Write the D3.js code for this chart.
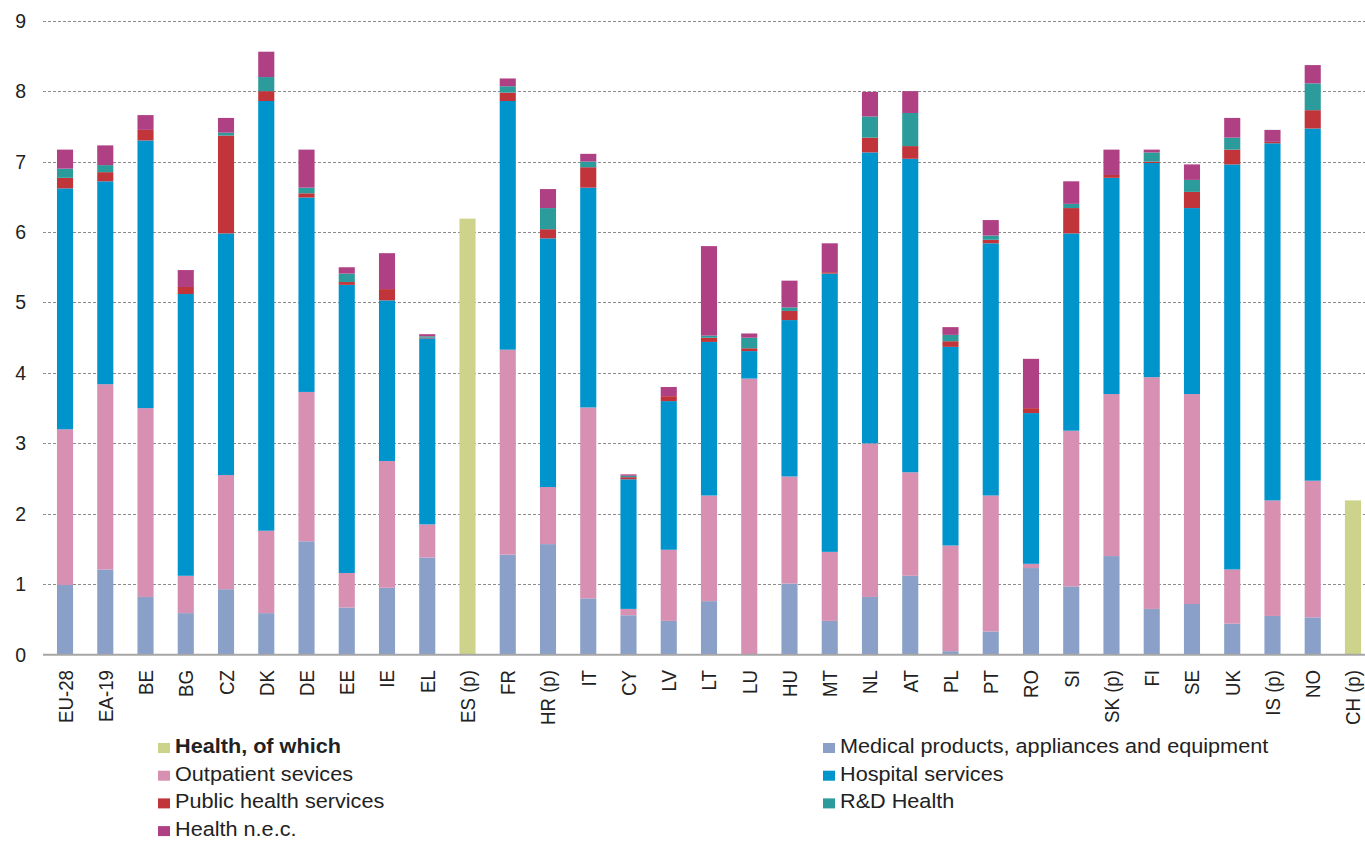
<!DOCTYPE html>
<html>
<head>
<meta charset="utf-8">
<script src="https://cdn.jsdelivr.net/npm/d3@7"></script>
<style>
  html, body { margin: 0; padding: 0; background: #fff; }
  svg { display: block; font-family: "Liberation Sans", Arial, sans-serif; }
</style>
</head>
<body>
<svg id="chart" width="1365" height="841"></svg>
<script>
const categories = ["EU-28","EA-19","BE","BG","CZ","DK","DE","EE","IE","EL","ES (p)","FR","HR (p)","IT","CY","LV","LT","LU","HU","MT","NL","AT","PL","PT","RO","SI","SK (p)","FI","SE","UK","IS (p)","NO","CH (p)"];

const healthTotal = [null,null,null,null,null,null,null,null,null,null,6.19,null,null,null,null,null,null,null,null,null,null,null,null,null,null,null,null,null,null,null,null,null,2.19];
const medical    = [0.99,1.21,0.82,0.59,0.93,0.59,1.61,0.67,0.95,1.38,0,1.42,1.57,0.80,0.56,0.48,0.76,0,1.01,0.48,0.82,1.12,0.05,0.33,1.23,0.97,1.40,0.65,0.72,0.44,0.55,0.53,0];
const outpatient = [2.21,2.63,2.68,0.53,1.62,1.17,2.12,0.49,1.80,0.47,0,2.91,0.81,2.71,0.09,1.01,1.50,3.92,1.52,0.98,2.18,1.47,1.50,1.93,0.06,2.21,2.30,3.29,2.98,0.77,1.64,1.94,0];
const hospital   = [3.42,2.88,3.80,4.00,3.43,6.10,2.76,4.09,2.28,2.64,0,3.53,3.53,3.12,1.84,2.11,2.18,0.39,2.22,3.95,4.13,4.45,2.82,3.58,2.14,2.80,3.07,3.04,2.64,5.75,5.07,5.00,0];
const publicHealth = [0.15,0.13,0.15,0.10,1.39,0.14,0.06,0.04,0.16,0.01,0,0.12,0.13,0.29,0.03,0.07,0.06,0.04,0.13,0.02,0.21,0.18,0.08,0.05,0.07,0.36,0.04,0.02,0.23,0.21,0.02,0.26,0];
const rdHealth   = [0.13,0.10,0,0,0.04,0.20,0.08,0.12,0,0.02,0,0.09,0.30,0.08,0.02,0,0.03,0.15,0.05,0,0.30,0.47,0.09,0.06,0,0.06,0,0.13,0.17,0.17,0,0.38,0];
const healthNec  = [0.27,0.28,0.21,0.24,0.21,0.36,0.54,0.09,0.51,0.03,0,0.11,0.27,0.11,0.02,0.13,1.27,0.06,0.38,0.41,0.35,0.31,0.11,0.22,0.70,0.32,0.36,0.04,0.22,0.28,0.17,0.26,0];

const yTicks = [0,1,2,3,4,5,6,7,8,9];

const seriesKeys   = ["medical","outpatient","hospital","publicHealth","rdHealth","healthNec"];
const seriesLabels = {
  total: "Health, of which",
  medical: "Medical products, appliances and equipment",
  outpatient: "Outpatient sevices",
  hospital: "Hospital services",
  publicHealth: "Public health services",
  rdHealth: "R&D Health",
  healthNec: "Health n.e.c."
};
const colors = {
  total: "#cdd38a",
  medical: "#8aa0c8",
  outpatient: "#d78fb2",
  hospital: "#0094cd",
  publicHealth: "#c0343a",
  rdHealth: "#2b9b9b",
  healthNec: "#b04084"
};

const table = categories.map((c, i) => ({
  cat: c,
  total: healthTotal[i],
  medical: medical[i],
  outpatient: outpatient[i],
  hospital: hospital[i],
  publicHealth: publicHealth[i],
  rdHealth: rdHealth[i],
  healthNec: healthNec[i]
}));

const svg = d3.select("#chart");

const x = d3.scaleBand().domain(categories).range([44.9, 1373.1]).paddingInner(0.6).paddingOuter(0.3);
const y = d3.scaleLinear().domain([0, 9]).range([654.7, 20.7]);

// gridlines
svg.append("g").selectAll("line").data(yTicks.filter(d => d > 0)).join("line")
  .attr("x1", 43).attr("x2", 1365)
  .attr("y1", d => Math.round(y(d)) + 0.5).attr("y2", d => Math.round(y(d)) + 0.5)
  .attr("stroke", "#8c8c8c").attr("stroke-width", 1).attr("stroke-dasharray", "3,2");

// y tick labels
svg.append("g").selectAll("text").data(yTicks).join("text")
  .attr("x", 26).attr("y", d => y(d)).attr("dy", "0.36em")
  .attr("text-anchor", "end").attr("font-size", "19.5px").attr("fill", "#222")
  .text(d => d);

// stacked bars
const stack = d3.stack().keys(seriesKeys);
const stacked = stack(table);

svg.append("g").selectAll("g").data(stacked).join("g")
  .attr("fill", s => colors[s.key])
  .selectAll("rect").data(s => s.filter(d => d[1] - d[0] > 0)).join("rect")
  .attr("x", d => x(d.data.cat))
  .attr("width", x.bandwidth())
  .attr("y", d => y(d[1]))
  .attr("height", d => y(d[0]) - y(d[1]));

// total bars (Health, of which)
svg.append("g").selectAll("rect").data(table.filter(d => d.total != null)).join("rect")
  .attr("fill", colors.total)
  .attr("x", d => x(d.cat))
  .attr("width", x.bandwidth())
  .attr("y", d => y(d.total))
  .attr("height", d => y(0) - y(d.total));

// x axis line
svg.append("line")
  .attr("x1", 43).attr("x2", 1365)
  .attr("y1", y(0)).attr("y2", y(0))
  .attr("stroke", "#a6a6a6").attr("stroke-width", 2);

// x labels
svg.append("g").selectAll("text").data(categories).join("text")
  .attr("transform", d => `translate(${x(d) + x.bandwidth() / 2},670) scale(1.11,1) rotate(-90)`)
  .attr("text-anchor", "end").attr("dy", "0.36em")
  .attr("font-size", "18.7px").attr("fill", "#222")
  .text(d => d);

// legend
const legendItems = [
  { key: "total", col: 0, row: 0, bold: true },
  { key: "outpatient", col: 0, row: 1 },
  { key: "publicHealth", col: 0, row: 2 },
  { key: "healthNec", col: 0, row: 3 },
  { key: "medical", col: 1, row: 0 },
  { key: "hospital", col: 1, row: 1 },
  { key: "rdHealth", col: 1, row: 2 }
];
const colX = [158, 823];
const lg = svg.append("g");
const li = lg.selectAll("g").data(legendItems).join("g")
  .attr("transform", d => `translate(${colX[d.col]},${753 + d.row * 27.7})`);
li.append("rect").attr("x", 0).attr("y", -10).attr("width", 12).attr("height", 10)
  .attr("fill", d => colors[d.key]);
li.append("text")
  .attr("transform", "translate(17,0) scale(1.11,1)")
  .attr("font-size", "19.5px").attr("fill", "#222")
  .attr("font-weight", d => d.bold ? "bold" : "normal")
  .text(d => seriesLabels[d.key]);
</script>
</body>
</html>
